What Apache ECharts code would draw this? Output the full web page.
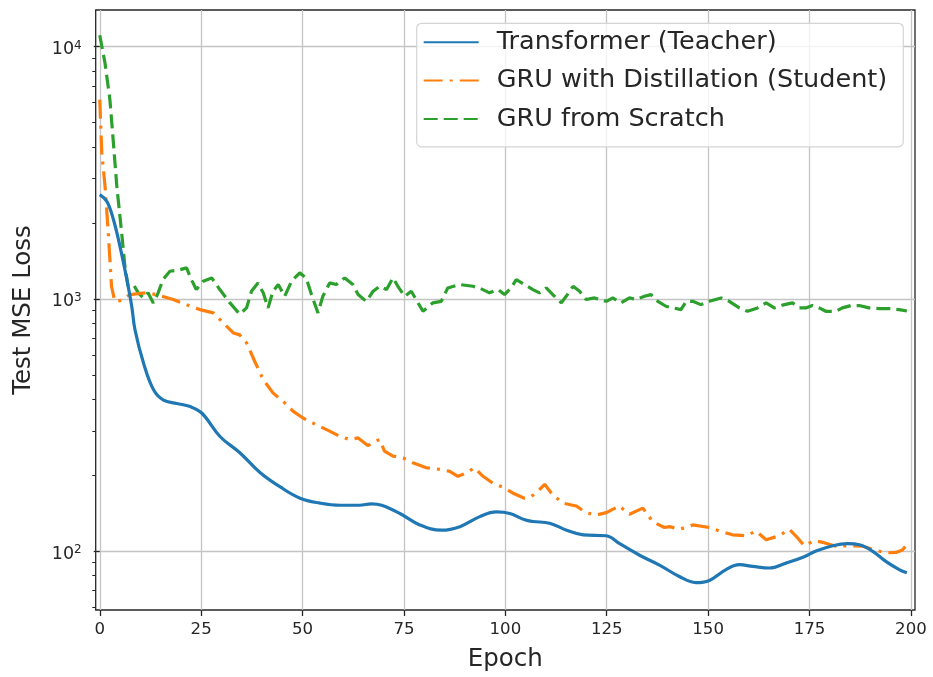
<!DOCTYPE html>
<html>
<head>
<meta charset="utf-8">
<script src="https://cdn.jsdelivr.net/npm/echarts@6/dist/echarts.min.js"></script>
<style>
html,body{margin:0;padding:0;background:#fff;}
#chart{width:933px;height:677px;}
</style>
</head>
<body>
<div id="chart"></div>
<script>
// ---- data ----
const seriesNames = ['Transformer (Teacher)', 'GRU with Distillation (Student)', 'GRU from Scratch'];

const teacherEpochs = [0, 1.8, 3.4, 5, 6.7, 7.9, 8.7, 10.8, 13.3, 15.7, 19, 22.3, 25.2, 29.7, 34.6, 39.5, 44.4, 49.4, 54.3, 59.2, 64, 67, 69.5, 74, 78.9, 84.3, 88.8, 93.7, 97.8, 101.1, 104.8, 106.8, 110.9, 115.1, 119.2, 124.9, 128.2, 133.1, 138, 142.9, 147, 150.3, 154.4, 157.7, 161, 165.1, 169.2, 173.7, 176.6, 180.7, 184.4, 187.3, 190.5, 193.8, 197.1, 199];
const teacherLoss = [2590, 2430, 2055, 1612, 1189, 931, 753, 556, 435, 397, 385, 374, 352, 284, 245, 205, 180, 162, 155, 152, 152, 154, 152, 141, 127, 121, 125, 137, 143, 141, 133, 131, 129, 121, 116, 115, 107, 96.3, 88, 79.3, 75, 76.5, 84.4, 88.3, 87, 85.7, 89.6, 95, 100, 105, 107, 106, 100, 91, 84.5, 82];

const studentEpochs = [0, 0.5, 1.3, 2.1, 2.9, 3.7, 5, 7.4, 11.6, 14, 18.1, 21.4, 24.7, 28, 31.3, 33, 34.5, 36.2, 38.2, 40.3, 42.7, 45.6, 47.7, 50.1, 53.4, 56.7, 59.2, 61.6, 63.7, 66.1, 67.8, 69, 70.2, 72.3, 74.8, 77.2, 80.5, 83.8, 86.3, 88.3, 90.4, 92.4, 94.5, 96.9, 99.8, 101.8, 104.7, 106, 107.6, 109.7, 111.7, 114.2, 117.5, 119.9, 122.4, 124.9, 128.1, 130.6, 133.9, 136.3, 139.2, 140.5, 143, 146.2, 150.3, 152.8, 156, 159.3, 161.8, 164.3, 167.5, 170, 171.6, 173.7, 176.2, 178.6, 181.5, 184.8, 188.1, 191.4, 193.8, 196.3, 197.9, 199.6];
const studentLoss = [6170, 3800, 2800, 1833, 1122, 978, 985, 1040, 1057, 1040, 994, 948, 907, 880, 778, 732, 720, 669, 566, 479, 424, 387, 358, 337, 317, 299, 285, 277, 281, 262, 272, 277, 249, 238, 234, 224, 214, 211, 207, 198, 204, 214, 198, 186, 178, 170, 162, 163, 170, 184, 167, 155, 151, 142, 139, 142, 151, 140, 148, 131, 124, 125, 122, 127, 124, 120, 116, 115, 120, 111, 115, 122, 115, 105, 110, 108, 104.5, 105, 104.5, 100.7, 98.4, 98.8, 101, 109];

const scratchEpochs = [0, 1.3, 2.5, 3.3, 4.2, 5.4, 6.2, 7, 8.3, 9.5, 10.7, 11.9, 13.2, 14.4, 15.6, 17.3, 19.8, 21.4, 22.6, 23.8, 25.5, 27.6, 29.6, 32.1, 34.5, 36.2, 37.4, 39, 40.3, 41.5, 42.7, 44, 45.6, 47.3, 49.3, 50.9, 52.2, 53.8, 55, 56.7, 58.3, 60.4, 62.4, 63.7, 65.7, 67.4, 69, 70.7, 72.3, 73.5, 75.2, 76.8, 78, 79.7, 82.1, 84.2, 85.8, 88.7, 92, 93.6, 96.1, 98.2, 99.8, 101.4, 102.7, 104.7, 106.8, 108.4, 110.1, 111.7, 113.8, 115, 116.7, 118.3, 119.9, 122, 124.9, 126.5, 128.5, 130.6, 132.2, 134.3, 135.9, 137.6, 139.6, 141.3, 143.3, 144.6, 146.2, 148.2, 150.3, 153.2, 155.2, 157.7, 159.7, 162.2, 164.3, 166.3, 168.8, 170.8, 172.5, 174.1, 175.7, 177.4, 179, 181.5, 183.1, 185.2, 187.2, 189.7, 192.2, 194.6, 197.1, 199];
const scratchLoss = [11100, 8600, 6170, 4285, 2800, 1828, 1346, 1122, 1140, 1057, 1009, 1057, 964, 1057, 1193, 1287, 1306, 1327, 1193, 1089, 1175, 1211, 1089, 964, 870, 921, 1072, 1157, 1057, 921, 1072, 1140, 1024, 1175, 1268, 1211, 1040, 880, 1024, 1157, 1140, 1211, 1140, 1040, 978, 1072, 1122, 1089, 1211, 1122, 1024, 1072, 994, 893, 964, 978, 1105, 1140, 1122, 1105, 1057, 1089, 1040, 1105, 1193, 1140, 1089, 1057, 1105, 1040, 964, 1024, 1122, 1072, 994, 1009, 978, 1009, 964, 1009, 994, 1024, 1040, 978, 935, 921, 907, 978, 978, 949, 978, 1009, 978, 921, 893, 921, 964, 921, 949, 964, 921, 921, 941, 921, 893, 893, 921, 941, 941, 921, 915, 915, 907, 895];

const xTickValues = [0, 25, 50, 75, 100, 125, 150, 175, 200];
const yTickValues = [100, 1000, 10000];
const yMinorTickValues = [60, 70, 80, 90, 200, 300, 400, 500, 600, 700, 800, 900, 2000, 3000, 4000, 5000, 6000, 7000, 8000, 9000];

// ---- styling ----
const F = 'DejaVu Sans';
const TXT = '#262626';
const FRAME = '#262626';
const GRIDC = '#c4c4c4';
const colors = ['#1f77b4', '#ff7f0e', '#2ca02c'];
const xMin = -1, xMax = 201, yMin = 58.4, yMax = 13980;

function pairs(xs, ys) { return xs.map((x, i) => [x, ys[i]]); }

const chart = echarts.init(document.getElementById('chart'), null, {renderer: 'canvas'});
chart.setOption({
  backgroundColor: '#ffffff',
  animation: false,
  color: colors,
  grid: {
    left: 95.7, right: 18, top: 10, bottom: 67,
    containLabel: false, outerBoundsMode: 'none',
    show: true, borderColor: FRAME, borderWidth: 1.3, backgroundColor: 'transparent'
  },
  legend: {
    orient: 'vertical',
    left: 416.7, top: 23.3,
    padding: [6, 16, 15, 6],
    itemGap: 12.3,
    itemWidth: 55, itemHeight: 14,
    backgroundColor: 'rgba(255,255,255,0.8)',
    borderColor: '#d4d4d4', borderWidth: 1.2, borderRadius: 5,
    itemStyle: {opacity: 0},
    textStyle: {fontFamily: F, fontSize: 25.5, color: TXT, lineHeight: 23, padding: [3, 0, 0, 13]},
    data: seriesNames
  },
  xAxis: {
    type: 'value', min: xMin, max: xMax,
    name: 'Epoch', nameLocation: 'middle', nameGap: 37,
    nameTextStyle: {fontFamily: F, fontSize: 24.5, color: TXT},
    axisLine: {show: false},
    axisTick: {show: true, inside: false, length: 6, customValues: xTickValues, lineStyle: {color: FRAME, width: 1.3}},
    axisLabel: {customValues: xTickValues, margin: 11, fontFamily: F, fontSize: 16.6, color: TXT},
    splitLine: {show: true, lineStyle: {color: GRIDC, width: 1.3}}
  },
  yAxis: [{
    type: 'log', logBase: 10, min: yMin, max: yMax,
    name: 'Test MSE Loss', nameLocation: 'middle', nameGap: 60,
    nameTextStyle: {fontFamily: F, fontSize: 24.5, color: TXT},
    axisLine: {show: false},
    axisTick: {show: true, length: 6, customValues: yTickValues, lineStyle: {color: FRAME, width: 1.3}},
    axisLabel: {
      customValues: yTickValues, margin: 14,
      formatter: function (v) { return '{b|10}{s|' + Math.round(Math.log10(v)) + '}'; },
      rich: {
        b: {fontFamily: F, fontSize: 17.5, color: TXT, lineHeight: 22, padding: [6, 0, 0, 0], verticalAlign: 'middle'},
        s: {fontFamily: F, fontSize: 12, color: TXT, lineHeight: 12, padding: [4, 0, 0, 0], verticalAlign: 'top'}
      }
    },
    splitLine: {show: true, lineStyle: {color: GRIDC, width: 1.3}}
  }, {
    type: 'log', logBase: 10, min: yMin, max: yMax, position: 'left',
    axisLine: {show: false},
    axisTick: {show: true, length: 3.4, customValues: yMinorTickValues, lineStyle: {color: FRAME, width: 1}},
    axisLabel: {show: false},
    splitLine: {show: false}
  }],
  series: [{
    name: seriesNames[0], type: 'line', yAxisIndex: 0,
    data: pairs(teacherEpochs, teacherLoss),
    symbol: 'none', smooth: 0.4, z: 5,
    lineStyle: {color: colors[0], width: 3.2, type: 'solid'}
  }, {
    name: seriesNames[1], type: 'line', yAxisIndex: 0,
    data: pairs(studentEpochs, studentLoss),
    symbol: 'none', smooth: false, z: 4,
    lineStyle: {color: colors[1], width: 3.2, type: [19, 7, 3, 7]}
  }, {
    name: seriesNames[2], type: 'line', yAxisIndex: 0,
    data: pairs(scratchEpochs, scratchLoss),
    symbol: 'none', smooth: false, z: 3,
    lineStyle: {color: colors[2], width: 3.2, type: [14, 6]}
  }]
});
</script>
</body>
</html>
